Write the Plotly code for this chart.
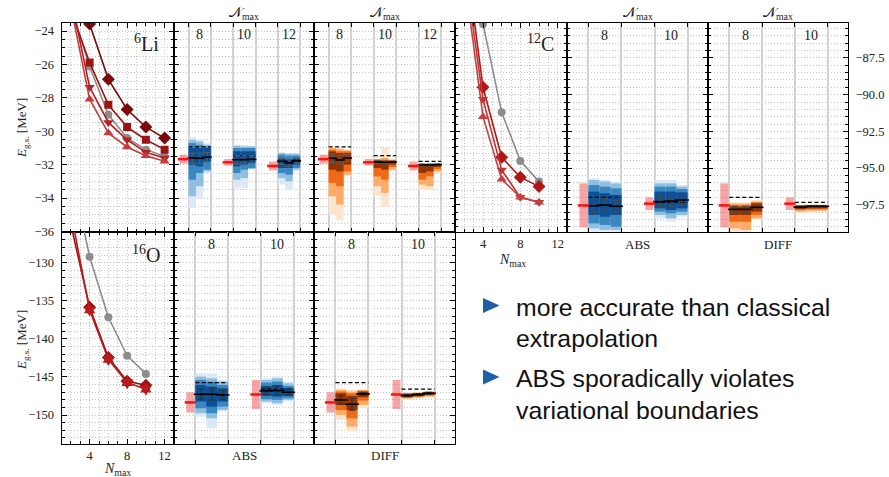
import plotly.graph_objects as go

W, H = 889, 477

# ---------------- classical NCSM sequences (E_gs vs N_max) ----------------
LI6_NMAX = [2, 4, 6, 8, 10, 12]
LI6_E_DIAMOND = [-19.0, -23.58, -26.89, -28.70, -29.75, -30.41]
LI6_E_SQUARE = [-22.8, -25.89, -28.42, -29.75, -30.51, -31.10]
LI6_E_GREY = [-22.5, -26.13, -29.01, -30.40, -31.10, -31.50]
LI6_E_TRIDOWN = [-22.0, -27.36, -29.47, -30.51, -31.26, -31.60]
LI6_E_TRIUP = [-22.5, -28.08, -30.11, -30.94, -31.46, -31.80]

C12_NMAX = [2, 4, 6, 8, 10]
C12_E_GREY = [-76.0, -85.18, -91.20, -94.51, -95.92]
C12_E_DIAMOND = [-79.8, -89.50, -94.26, -95.62, -96.26]
C12_E_TRIDOWN = [-81.1, -90.31, -95.13, -96.99, -97.33]
C12_E_TRIUP = [-81.9, -91.50, -95.76, -96.99, -97.33]

O16_NMAX = [2, 4, 6, 8, 10]
O16_E_GREY = [-117.6, -129.21, -137.17, -142.20, -144.60]
O16_E_DIAMOND = [-125.0, -135.85, -142.46, -145.56, -146.09]
O16_E_STAR = [-123.4, -136.20, -142.70, -145.74, -146.60]

# ---------------- classical extrapolation (value, half-uncertainty) ----------------
LI6_GROUPS = ["8", "10", "12"]
LI6_EXTRAP = [-31.67, -31.86, -32.08]
LI6_EXTRAP_UNC = [0.27, 0.20, 0.27]
C12_GROUPS = ["8", "10"]
C12_EXTRAP = [-97.54, -97.42]
C12_EXTRAP_UNC = [1.50, 0.43]
O16_GROUPS = ["8", "10"]
O16_EXTRAP = [-148.34, -147.30]
O16_EXTRAP_UNC = [1.33, 1.90]

# ---------------- network predictions per column ----------------
# (median, err, tail_lo, tail_hi, outer_lo, outer_hi, mid_lo, mid_hi, inner_lo, inner_hi)
LI6_ABS = [
    (-31.60, 0.30, -34.59, -30.35, -33.89, -30.51, -32.90, -30.71, -32.00, -31.00),
    (-31.62, 0.32, -33.99, -30.51, -33.29, -30.61, -32.50, -30.81, -32.10, -31.00),
    (-31.55, 0.28, -32.50, -30.71, -32.40, -30.81, -32.30, -30.91, -31.80, -31.00),
    (-31.70, 0.25, -33.39, -30.81, -32.90, -30.87, -32.50, -31.00, -32.10, -31.20),
    (-31.70, 0.25, -33.39, -30.81, -32.80, -30.91, -32.30, -31.00, -32.00, -31.20),
    (-31.68, 0.22, -32.30, -30.87, -32.26, -30.91, -32.20, -31.00, -31.90, -31.20),
    (-31.80, 0.18, -33.19, -31.26, -32.80, -31.30, -32.50, -31.40, -32.20, -31.60),
    (-31.90, 0.20, -33.49, -31.30, -33.00, -31.34, -32.60, -31.46, -32.20, -31.66),
    (-31.76, 0.15, -32.40, -31.30, -32.30, -31.34, -32.20, -31.46, -32.00, -31.60),
]
LI6_DIFF = [
    (-31.62, 0.25, -34.98, -30.91, -33.89, -31.00, -33.09, -31.10, -32.30, -31.20),
    (-31.72, 0.25, -35.32, -31.00, -34.39, -31.06, -33.29, -31.20, -32.40, -31.30),
    (-31.60, 0.20, -32.70, -31.10, -32.60, -31.14, -32.40, -31.20, -32.00, -31.30),
    (-31.84, 0.08, -33.89, -31.60, -33.29, -31.66, -32.70, -31.70, -32.20, -31.74),
    (-31.86, 0.08, -34.53, -31.00, -33.69, -31.60, -32.90, -31.70, -32.30, -31.76),
    (-31.84, 0.06, -32.40, -31.66, -32.30, -31.70, -32.14, -31.74, -32.00, -31.80),
    (-32.02, 0.06, -33.49, -31.90, -33.19, -31.94, -32.90, -32.00, -32.50, -32.06),
    (-32.02, 0.06, -33.53, -31.90, -33.29, -31.94, -32.70, -32.00, -32.40, -32.06),
    (-32.00, 0.05, -32.50, -31.90, -32.40, -31.94, -32.26, -31.98, -32.14, -32.02),
]
C12_ABS = [
    (-97.56, 0.45, -99.33, -95.69, -99.10, -95.81, -98.76, -96.15, -98.19, -96.60),
    (-97.51, 0.44, -99.33, -95.81, -99.21, -95.92, -98.87, -96.26, -98.31, -96.72),
    (-97.60, 0.40, -99.33, -95.92, -99.21, -96.04, -98.99, -96.38, -98.19, -96.83),
    (-97.28, 0.34, -98.42, -95.81, -98.19, -96.04, -97.97, -96.26, -97.74, -96.60),
    (-97.24, 0.36, -98.65, -95.81, -98.42, -96.04, -98.08, -96.26, -97.85, -96.60),
    (-97.17, 0.32, -98.31, -96.15, -98.19, -96.26, -97.97, -96.42, -97.74, -96.65),
]
C12_DIFF = [
    (-97.81, 0.20, -99.44, -97.33, -99.10, -97.40, -98.65, -97.51, -98.19, -97.62),
    (-97.81, 0.20, -99.44, -97.33, -99.21, -97.40, -98.65, -97.51, -98.19, -97.62),
    (-97.67, 0.15, -98.53, -97.17, -98.42, -97.28, -98.19, -97.33, -97.97, -97.40),
    (-97.65, 0.05, -98.08, -97.47, -97.97, -97.51, -97.85, -97.53, -97.78, -97.56),
    (-97.60, 0.05, -98.01, -97.47, -97.90, -97.51, -97.81, -97.53, -97.74, -97.56),
    (-97.60, 0.05, -97.97, -97.47, -97.90, -97.51, -97.81, -97.53, -97.74, -97.56),
]
O16_ABS = [
    (-147.27, 0.65, -150.20, -144.52, -149.76, -144.95, -149.11, -145.39, -148.23, -146.05),
    (-147.27, 0.76, -151.73, -144.52, -150.42, -145.17, -149.76, -145.61, -148.89, -146.26),
    (-147.36, 0.57, -149.54, -145.39, -149.33, -145.61, -148.89, -146.05, -148.23, -146.48),
    (-146.83, 0.50, -148.45, -145.17, -148.23, -145.39, -147.93, -145.74, -147.49, -146.18),
    (-146.79, 0.59, -148.67, -144.95, -148.45, -145.17, -148.01, -145.61, -147.58, -146.05),
    (-147.01, 0.37, -148.23, -145.61, -148.01, -145.83, -147.80, -146.18, -147.49, -146.48),
]
O16_DIFF = [
    (-148.01, 0.55, -150.64, -146.48, -149.98, -146.70, -149.33, -146.92, -148.67, -147.14),
    (-148.58, 0.76, -152.17, -146.70, -151.51, -146.92, -150.42, -147.14, -149.33, -147.49),
    (-147.23, 0.17, -149.11, -146.61, -148.67, -146.70, -148.10, -146.83, -147.66, -146.92),
    (-147.44, 0.15, -147.93, -147.05, -147.84, -147.14, -147.71, -147.18, -147.62, -147.23),
    (-147.31, 0.13, -147.84, -147.01, -147.71, -147.05, -147.58, -147.10, -147.49, -147.14),
    (-147.14, 0.12, -147.66, -146.88, -147.58, -146.92, -147.44, -146.96, -147.36, -147.01),
]

BULLETS = [["more accurate than classical", "extrapolation"],
           ["ABS sporadically violates", "variational boundaries"]]

# ---------------- styling / layout ----------------
SERIF = "Liberation Serif"
SANS = "Liberation Sans"
BLUES = ["#dbe9f6", "#8fbfe0", "#3a87c0", "#0b4f96"]
ORANGES = ["#fde5cd", "#fdab67", "#ee6a17", "#933203"]
GRID = "#c4c4c4"
GDASH = "1px,2px"

PX = {1: (61.5, 174, 23, 232), 2: (174, 314, 23, 232), 3: (314, 455, 23, 232),
      4: (455, 567, 23, 232), 5: (567, 708, 23, 232), 6: (708, 848, 23, 232),
      7: (61.5, 174, 232, 444), 8: (174, 314, 232, 444), 9: (314, 455, 232, 444)}
LI6_YR = [-36.03, -23.52]
C12_YR = [-99.35, -85.12]
O16_YR = [-153.8, -125.97]

fig = go.Figure()


def ax_name(i, a):
    return a if i == 1 else f"{a}{i}"


def dom_x(i):
    L, R, T, B = PX[i]
    return [L / W, R / W]


def dom_y(i):
    L, R, T, B = PX[i]
    return [1 - B / H, 1 - T / H]


def yaxis(i, rng, dtick, minor, labels, side="left", fmt=None):
    d = dict(domain=dom_y(i), range=rng, anchor=ax_name(i, "x"), side=side,
             automargin=False,
             showline=True, linecolor="black", linewidth=1, mirror="ticks",
             ticks="inside", ticklen=5, tickcolor="black", tickwidth=1,
             dtick=dtick, tick0=0, showgrid=True, gridcolor=GRID, griddash=GDASH,
             gridwidth=1, zeroline=False, showticklabels=labels, ticklabelstandoff=4,
             tickfont=dict(family=SERIF, size=12.5, color="#222"),
             minor=dict(dtick=minor, tick0=0, ticks="inside", ticklen=3,
                        tickcolor="black", showgrid=True, gridcolor=GRID,
                        griddash=GDASH, gridwidth=1))
    if fmt:
        d["tickformat"] = fmt
    fig.layout[ax_name(i, "yaxis")] = d


def xaxis_classic(i, labels):
    fig.layout[ax_name(i, "xaxis")] = dict(
        domain=dom_x(i), range=[1, 13], anchor=ax_name(i, "y"), automargin=False,
        showline=True, linecolor="black", linewidth=1, mirror="ticks",
        ticks="inside", ticklen=5, tickcolor="black", dtick=4, tick0=0,
        showgrid=True, gridcolor=GRID, griddash=GDASH, gridwidth=1, zeroline=False,
        showticklabels=labels, tickfont=dict(family=SERIF, size=12.5, color="#222"),
        minor=dict(dtick=1, tick0=0, ticks="inside", ticklen=3, tickcolor="black",
                   showgrid=True, gridcolor=GRID, griddash=GDASH, gridwidth=1))


def nn_xrange(n):
    return [-0.575, n - 0.44]


def xaxis_nn(i, n):
    edges = []
    for g in range(n):
        edges += [g - 0.25, g + 0.25]
    fig.layout[ax_name(i, "xaxis")] = dict(
        domain=dom_x(i), range=nn_xrange(n), anchor=ax_name(i, "y"), automargin=False,
        showline=True, linecolor="black", linewidth=1, mirror="ticks",
        ticks="inside", ticklen=4, tickcolor="black", tickvals=edges,
        showgrid=True, gridcolor="#d2d2d2", gridwidth=2, zeroline=False,
        showticklabels=False)


def classic_panel(i, nmax, series):
    xa, ya = ax_name(i, "x"), ax_name(i, "y")
    for ys, sym, size, col in series:
        fig.add_trace(go.Scatter(
            x=nmax, y=ys, mode="lines+markers", xaxis=xa, yaxis=ya,
            line=dict(color=col, width=1.6),
            marker=dict(symbol=sym, size=size, color=col, line=dict(width=0))))


def nn_panel(i, cols, extrap, unc, bound, cmap, errcol):
    xa, ya = ax_name(i, "x"), ax_name(i, "y")
    n = len(extrap)
    L, R, T, B = PX[i]
    xr = nn_xrange(n)
    ppu = (R - L) / (xr[1] - xr[0])
    pw = 8 / ppu
    rx = [g - 0.25 - (1 + 4) / ppu for g in range(n)]
    fig.add_trace(go.Bar(x=rx, base=[e - u for e, u in zip(extrap, unc)],
                         y=[2 * u for u in unc], width=pw, xaxis=xa, yaxis=ya,
                         marker=dict(color="rgba(242,80,80,0.52)", line=dict(width=0))))
    xs = [g + off for g in range(n) for off in (-1 / 6, 0, 1 / 6)]
    for k, color in enumerate(cmap):
        lo = [c[2 + 2 * k] for c in cols]
        hi = [c[3 + 2 * k] for c in cols]
        fig.add_trace(go.Bar(x=xs, base=lo, y=[h - l for l, h in zip(lo, hi)],
                             width=1 / 6, xaxis=xa, yaxis=ya,
                             marker=dict(color=color, line=dict(width=0))))
    bx, by = [], []
    for g, b in enumerate(bound):
        bx += [g - 0.25, g + 0.25, None]
        by += [b, b, None]
    fig.add_trace(go.Scatter(x=bx, y=by, mode="lines", xaxis=xa, yaxis=ya,
                             line=dict(color="black", width=1.3, dash="4px,2.5px")))
    colpx = ppu / 6
    fig.add_trace(go.Scatter(
        x=xs, y=[c[0] for c in cols], mode="markers", xaxis=xa, yaxis=ya,
        marker=dict(symbol="line-ew", size=colpx * 0.9, line=dict(color="black", width=1.6)),
        error_y=dict(type="data", array=[c[1] for c in cols], color=errcol,
                     thickness=1.2, width=3)))
    fig.add_trace(go.Scatter(x=rx, y=extrap, mode="markers", xaxis=xa, yaxis=ya,
                             marker=dict(symbol="line-ew", size=8,
                                         line=dict(color="#ff1010", width=2.5))))


def ann(text, xpx, ypx, size, family=SERIF, color="#222", xanchor="center",
        yanchor="middle", **kw):
    fig.add_annotation(text=text, x=xpx / W, y=1 - ypx / H, xref="paper", yref="paper",
                       showarrow=False, xanchor=xanchor, yanchor=yanchor,
                       font=dict(family=family, size=size, color=color), **kw)


def bound_at(series_list, idxs):
    return [min(s[j] for s in series_list) for j in idxs]


# ---- 6Li ----
li6_series = [LI6_E_GREY, LI6_E_DIAMOND, LI6_E_SQUARE, LI6_E_TRIDOWN, LI6_E_TRIUP]
classic_panel(1, LI6_NMAX, [
    (LI6_E_GREY, "circle", 8, "#8c8c8c"),
    (LI6_E_DIAMOND, "diamond", 10, "#7a0a0a"),
    (LI6_E_SQUARE, "square", 8, "#9b1414"),
    (LI6_E_TRIDOWN, "triangle-down", 9, "#b52020"),
    (LI6_E_TRIUP, "triangle-up", 9, "#c43c3c")])
li6_bound = bound_at(li6_series, [LI6_NMAX.index(int(g)) for g in LI6_GROUPS])
nn_panel(2, LI6_ABS, LI6_EXTRAP, LI6_EXTRAP_UNC, li6_bound, BLUES, "#5a5a5a")
nn_panel(3, LI6_DIFF, LI6_EXTRAP, LI6_EXTRAP_UNC, li6_bound, ORANGES, "#5a5a5a")

# ---- 12C ----
c12_series = [C12_E_GREY, C12_E_DIAMOND, C12_E_TRIDOWN, C12_E_TRIUP]
classic_panel(4, C12_NMAX, [
    (C12_E_GREY, "circle", 8, "#8c8c8c"),
    (C12_E_DIAMOND, "diamond", 10, "#b01818"),
    (C12_E_TRIDOWN, "triangle-down", 9, "#c03434"),
    (C12_E_TRIUP, "triangle-up", 9, "#c44040")])
c12_bound = bound_at(c12_series, [C12_NMAX.index(int(g)) for g in C12_GROUPS])
nn_panel(5, C12_ABS, C12_EXTRAP, C12_EXTRAP_UNC, c12_bound, BLUES, "#4a4a4a")
nn_panel(6, C12_DIFF, C12_EXTRAP, C12_EXTRAP_UNC, c12_bound, ORANGES, "#4a4a4a")

# ---- 16O ----
o16_series = [O16_E_GREY, O16_E_DIAMOND, O16_E_STAR]
classic_panel(7, O16_NMAX, [
    (O16_E_GREY, "circle", 8, "#8c8c8c"),
    (O16_E_DIAMOND, "diamond", 10, "#a01010"),
    (O16_E_STAR, "hexagram", 10, "#b81c1c")])
o16_bound = bound_at(o16_series, [O16_NMAX.index(int(g)) for g in O16_GROUPS])
nn_panel(8, O16_ABS, O16_EXTRAP, O16_EXTRAP_UNC, o16_bound, BLUES, "#333")
nn_panel(9, O16_DIFF, O16_EXTRAP, O16_EXTRAP_UNC, o16_bound, ORANGES, "#333")

# ---- axes ----
xaxis_classic(1, False)
xaxis_classic(4, True)
xaxis_classic(7, True)
xaxis_nn(2, 3); xaxis_nn(3, 3)
xaxis_nn(5, 2); xaxis_nn(6, 2)
xaxis_nn(8, 2); xaxis_nn(9, 2)
yaxis(1, LI6_YR, 2, 0.5, True)
yaxis(2, LI6_YR, 2, 0.5, False)
yaxis(3, LI6_YR, 2, 0.5, False)
yaxis(4, C12_YR, 2.5, 0.5, False)
yaxis(5, C12_YR, 2.5, 0.5, False)
yaxis(6, C12_YR, 2.5, 0.5, True, side="right", fmt=".1f")
yaxis(7, O16_YR, 5, 1, True)
yaxis(8, O16_YR, 5, 1, False)
yaxis(9, O16_YR, 5, 1, False)

# ---- annotations ----
NCAL = "\U0001D4A9<sub>max</sub>"
for i in (2, 3, 5, 6):
    L, R, T, B = PX[i]
    ann(NCAL, (L + R) / 2, 14, 14)


def group_labels(i, groups, ypx):
    xa = ax_name(i, "x")
    for g, lab in enumerate(groups):
        fig.add_annotation(text=lab, x=g, y=1 - ypx / H, xref=xa, yref="paper",
                           xanchor="center", yanchor="middle", showarrow=False,
                           font=dict(family=SERIF, size=14, color="#222"))


group_labels(2, LI6_GROUPS, 34); group_labels(3, LI6_GROUPS, 34)
group_labels(5, C12_GROUPS, 35); group_labels(6, C12_GROUPS, 35)
group_labels(8, O16_GROUPS, 245); group_labels(9, O16_GROUPS, 245)

ann("<sup>6</sup>Li", 146, 43, 20)
ann("<sup>12</sup>C", 540, 43, 20)
ann("<sup>16</sup>O", 146, 254, 20)

ann("ABS", 637.5, 245, 13)
ann("DIFF", 778, 245, 13)
ann("ABS", 244, 455, 13)
ann("DIFF", 384.5, 455, 13)
ann("<i>N</i><sub>max</sub>", 512, 260, 14)
ann("<i>N</i><sub>max</sub>", 118, 469, 14)
ann("<i>E</i><sub>g.s.</sub> [MeV]", 22, 128, 13, textangle=-90)
ann("<i>E</i><sub>g.s.</sub> [MeV]", 22, 340, 13, textangle=-90)

line_y = [[307.5, 338.0], [378.5, 410.0]]
tri_y = [305.5, 377.0]
for b, lines in enumerate(BULLETS):
    for j, txt in enumerate(lines):
        ann(txt, 514, line_y[b][j], 24.8, family=SANS, color="#111",
            xanchor="left", yanchor="middle")
    yc = tri_y[b]
    fig.add_shape(type="path", xref="paper", yref="paper",
                  path=f"M {483/W},{1-(yc-7.5)/H} L {499.5/W},{1-yc/H} L {483/W},{1-(yc+7.5)/H} Z",
                  fillcolor="#1f5fa8", line=dict(width=0))

fig.update_layout(template="none", width=W, height=H, margin=dict(l=0, r=0, t=0, b=0, pad=0),
                  paper_bgcolor="white", plot_bgcolor="white", showlegend=False,
                  barmode="overlay", hovermode=False)
fig.write_html("out.html")
